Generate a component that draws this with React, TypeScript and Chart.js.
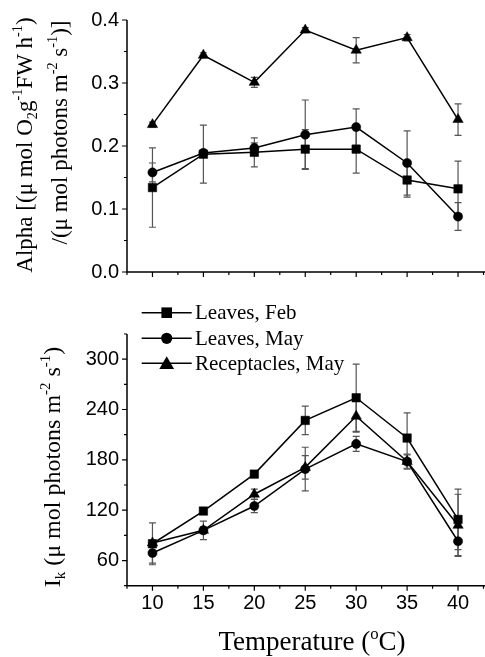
import React, { useEffect, useRef } from "react";
import { Chart, registerables } from "chart.js";
Chart.register(...registerables);

// ---------- data ----------
const TEMPS = [10, 15, 20, 25, 30, 35, 40];
const SERIES = ["Leaves, Feb", "Leaves, May", "Receptacles, May"];
const STYLES = ["rect", "circle", "triangle"];

const ALPHA_FEB = [0.134, 0.187, 0.19, 0.195, 0.195, 0.146, 0.132];
const ALPHA_FEB_ERR = [0.063, 0.046, 0.023, 0.031, 0.038, 0.027, 0.044];
const ALPHA_MAY = [0.158, 0.189, 0.197, 0.218, 0.23, 0.173, 0.088];
const ALPHA_MAY_ERR = [0.015, 0.005, 0.008, 0.055, 0.029, 0.051, 0.022];
const ALPHA_REC = [0.234, 0.344, 0.301, 0.384, 0.352, 0.372, 0.242];
const ALPHA_REC_ERR = [0.004, 0.004, 0.008, 0.004, 0.02, 0.005, 0.025];

const IK_FEB = [80, 119, 163, 227, 254, 206, 109];
const IK_FEB_ERR = [25, 3, 4, 17, 40, 30, 36];
const IK_MAY = [69, 96, 125, 169, 199, 178, 83];
const IK_MAY_ERR = [12, 11, 8, 26, 9, 9, 17];
const IK_REC = [81, 96, 139, 171, 232, 178, 102];
const IK_REC_ERR = [3, 4, 6, 14, 19, 8, 37];

const TEMP_TICKS = [10, 15, 20, 25, 30, 35, 40];
const ALPHA_TICKS = [0, 0.1, 0.2, 0.3, 0.4];
const IK_TICKS = [60, 120, 180, 240, 300];

// ---------- styling ----------
const SANS = '"Liberation Sans", Arial, sans-serif';
const SERIF = '"Liberation Serif", "Times New Roman", serif';
const POINT_R = [6, 4.6, 6];
const LEGEND_R = [7.5, 5.6, 8.5];

type Seg = [string, number];

function drawRich(ctx: CanvasRenderingContext2D, segs: Seg[], x: number, y: number, size: number, rotate: boolean) {
  ctx.save();
  ctx.translate(x, y);
  if (rotate) ctx.rotate(-Math.PI / 2);
  const small = size * 0.62;
  let total = 0;
  const widths = segs.map(([t, k]) => {
    ctx.font = `${k ? small : size}px ${SERIF}`;
    const w = ctx.measureText(t).width;
    total += w;
    return w;
  });
  let cx = -total / 2;
  ctx.textBaseline = "alphabetic";
  ctx.textAlign = "left";
  ctx.fillStyle = "#000";
  segs.forEach(([t, k], i) => {
    ctx.font = `${k ? small : size}px ${SERIF}`;
    const dy = k > 0 ? -size * 0.42 : k < 0 ? size * 0.22 : 0;
    ctx.fillText(t, cx, dy);
    cx += widths[i];
  });
  ctx.restore();
}

function drawMarker(ctx: CanvasRenderingContext2D, style: string, x: number, y: number, r: number) {
  ctx.beginPath();
  if (style === "rect") {
    const s = r * Math.SQRT1_2;
    ctx.rect(x - s, y - s, 2 * s, 2 * s);
  } else if (style === "circle") {
    ctx.arc(x, y, r, 0, Math.PI * 2);
  } else {
    ctx.moveTo(x, y - r);
    ctx.lineTo(x + r * 0.866, y + r * 0.5);
    ctx.lineTo(x - r * 0.866, y + r * 0.5);
    ctx.closePath();
  }
  ctx.fill();
}

function makeConfig(opts: {
  values: number[][];
  errors: number[][];
  yMin: number;
  yMax: number;
  yMinor: number;
  yTicks: number[];
  yFmt: (v: number) => string;
  showX: boolean;
  xHeight: number;
  padTop: number;
  titles: (ctx: CanvasRenderingContext2D) => void;
  legend: boolean;
}): any {
  const datasets = opts.values.map((vals, si) => ({
    label: SERIES[si],
    data: TEMPS.map((t, i) => ({ x: t, y: vals[i] })),
    borderColor: "#000",
    backgroundColor: "#000",
    borderWidth: 1.5,
    pointStyle: STYLES[si],
    pointRadius: POINT_R[si],
    pointBorderWidth: 0.5,
    pointBackgroundColor: "#000",
    pointBorderColor: "#000",
    tension: 0,
    clip: false,
  }));

  const errorBars = {
    id: "errorBars",
    beforeDatasetsDraw(chart: any) {
      const { ctx, scales } = chart;
      ctx.save();
      ctx.strokeStyle = "#555";
      ctx.lineWidth = 1.2;
      opts.values.forEach((vals, si) => {
        vals.forEach((v, i) => {
          const e = opts.errors[si][i];
          const px = scales.x.getPixelForValue(TEMPS[i]);
          const t = scales.y.getPixelForValue(v + e);
          const b = scales.y.getPixelForValue(v - e);
          ctx.beginPath();
          ctx.moveTo(px, t);
          ctx.lineTo(px, b);
          ctx.moveTo(px - 3.5, t);
          ctx.lineTo(px + 3.5, t);
          ctx.moveTo(px - 3.5, b);
          ctx.lineTo(px + 3.5, b);
          ctx.stroke();
        });
      });
      ctx.restore();
    },
  };

  const axes = {
    id: "axesDraw",
    afterDraw(chart: any) {
      const { ctx, chartArea, scales } = chart;
      const { left, right, top, bottom } = chartArea;
      ctx.save();
      ctx.strokeStyle = "#000";
      ctx.lineWidth = 1.5;
      ctx.beginPath();
      ctx.moveTo(left, top);
      ctx.lineTo(left, bottom);
      ctx.lineTo(right + 6, bottom);
      ctx.stroke();
      ctx.lineWidth = 1.2;
      ctx.beginPath();
      const ny = Math.round((opts.yMax - opts.yMin) / opts.yMinor);
      for (let k = 0; k <= ny; k++) {
        const v = opts.yMin + k * opts.yMinor;
        const major = opts.yTicks.some((t) => Math.abs(t - v) < 1e-6);
        const p = scales.y.getPixelForValue(v);
        ctx.moveTo(left, p);
        ctx.lineTo(left - (major ? 5 : 3), p);
      }
      const nx = Math.round((42.5 - 7.5) / 2.5);
      for (let k = 0; k <= nx; k++) {
        const v = 7.5 + k * 2.5;
        const major = TEMP_TICKS.some((t) => Math.abs(t - v) < 1e-6);
        const p = scales.x.getPixelForValue(v);
        ctx.moveTo(p, bottom);
        ctx.lineTo(p, bottom + (major ? 5 : 3));
      }
      ctx.stroke();
      ctx.restore();
      opts.titles(ctx);
      if (opts.legend) {
        const rows = [12.7, 38.3, 63.3];
        ctx.save();
        SERIES.forEach((name, si) => {
          const y = rows[si];
          ctx.strokeStyle = "#000";
          ctx.fillStyle = "#000";
          ctx.lineWidth = 1.5;
          ctx.beginPath();
          ctx.moveTo(141.7, y);
          ctx.lineTo(191.7, y);
          ctx.stroke();
          drawMarker(ctx, STYLES[si], 166.7, si === 2 ? y + 1.5 : y, LEGEND_R[si]);
          ctx.font = `21px ${SERIF}`;
          ctx.textBaseline = "middle";
          ctx.textAlign = "left";
          ctx.fillText(name, 195, y + 1);
        });
        ctx.restore();
      }
    },
  };

  return {
    type: "line",
    data: { datasets },
    plugins: [errorBars, axes],
    options: {
      animation: false,
      responsive: false,
      devicePixelRatio: 1,
      layout: { padding: { top: opts.padTop, right: 2.5, left: 0, bottom: 0 } },
      plugins: { legend: { display: false }, tooltip: { enabled: false } },
      events: [],
      scales: {
        x: {
          type: "linear",
          min: 7.5,
          max: 42.5,
          grid: { display: false, drawTicks: false },
          border: { display: false },
          ticks: {
            display: opts.showX,
            color: "#000",
            padding: 6,
            font: { family: SANS, size: 20 },
            maxRotation: 0,
          },
          afterBuildTicks: (s: any) => {
            s.ticks = TEMP_TICKS.map((v) => ({ value: v }));
          },
          afterFit: (s: any) => {
            s.height = opts.xHeight;
          },
        },
        y: {
          type: "linear",
          min: opts.yMin,
          max: opts.yMax,
          grid: { display: false, drawTicks: false },
          border: { display: false },
          ticks: {
            color: "#000",
            padding: 8,
            font: { family: SANS, size: 20 },
            callback: (v: any) => opts.yFmt(Number(v)),
          },
          afterBuildTicks: (s: any) => {
            s.ticks = opts.yTicks.map((v) => ({ value: v }));
          },
          afterFit: (s: any) => {
            s.width = 127;
          },
        },
      },
    },
  };
}

export default function App() {
  const topRef = useRef<HTMLCanvasElement>(null);
  const botRef = useRef<HTMLCanvasElement>(null);

  useEffect(() => {
    const c1 = new Chart(
      topRef.current as HTMLCanvasElement,
      makeConfig({
        values: [ALPHA_FEB, ALPHA_MAY, ALPHA_REC],
        errors: [ALPHA_FEB_ERR, ALPHA_MAY_ERR, ALPHA_REC_ERR],
        yMin: 0,
        yMax: 0.4,
        yMinor: 0.05,
        yTicks: ALPHA_TICKS,
        yFmt: (v) => v.toFixed(1),
        showX: false,
        xHeight: 28,
        padTop: 18,
        legend: false,
        titles: (ctx) => {
          drawRich(
            ctx,
            [
              ["Alpha [(\u03bc mol O", 0],
              ["2", -1],
              ["g", 0],
              ["-1", 1],
              ["FW h", 0],
              ["-1", 1],
              [")", 0],
            ],
            32,
            145,
            23,
            true
          );
          drawRich(
            ctx,
            [
              ["/(\u03bc mol photons m", 0],
              ["-2", 1],
              [" s", 0],
              ["-1", 1],
              [")]", 0],
            ],
            67,
            132.5,
            23,
            true
          );
        },
      })
    );
    const c2 = new Chart(
      botRef.current as HTMLCanvasElement,
      makeConfig({
        values: [IK_FEB, IK_MAY, IK_REC],
        errors: [IK_FEB_ERR, IK_MAY_ERR, IK_REC_ERR],
        yMin: 30,
        yMax: 330,
        yMinor: 30,
        yTicks: IK_TICKS,
        yFmt: (v) => String(v),
        showX: true,
        xHeight: 71.3,
        padTop: 34,
        legend: true,
        titles: (ctx) => {
          drawRich(
            ctx,
            [
              ["I", 0],
              ["k", -1],
              [" (\u03bc mol photons m", 0],
              ["-2", 1],
              [" s", 0],
              ["-1", 1],
              [")", 0],
            ],
            60,
            167,
            24,
            true
          );
          drawRich(
            ctx,
            [
              ["Temperature (", 0],
              ["o", 1],
              ["C)", 0],
            ],
            312,
            350,
            27,
            false
          );
        },
      })
    );
    return () => {
      c1.destroy();
      c2.destroy();
    };
  }, []);

  return (
    <div
      style={{
        position: "fixed",
        left: 0,
        top: 0,
        width: 485,
        height: 657,
        overflow: "hidden",
        background: "#fff",
      }}
    >
      <canvas ref={topRef} width={490} height={300} style={{ position: "absolute", left: 0, top: 0 }} />
      <canvas ref={botRef} width={490} height={357} style={{ position: "absolute", left: 0, top: 300 }} />
    </div>
  );
}
